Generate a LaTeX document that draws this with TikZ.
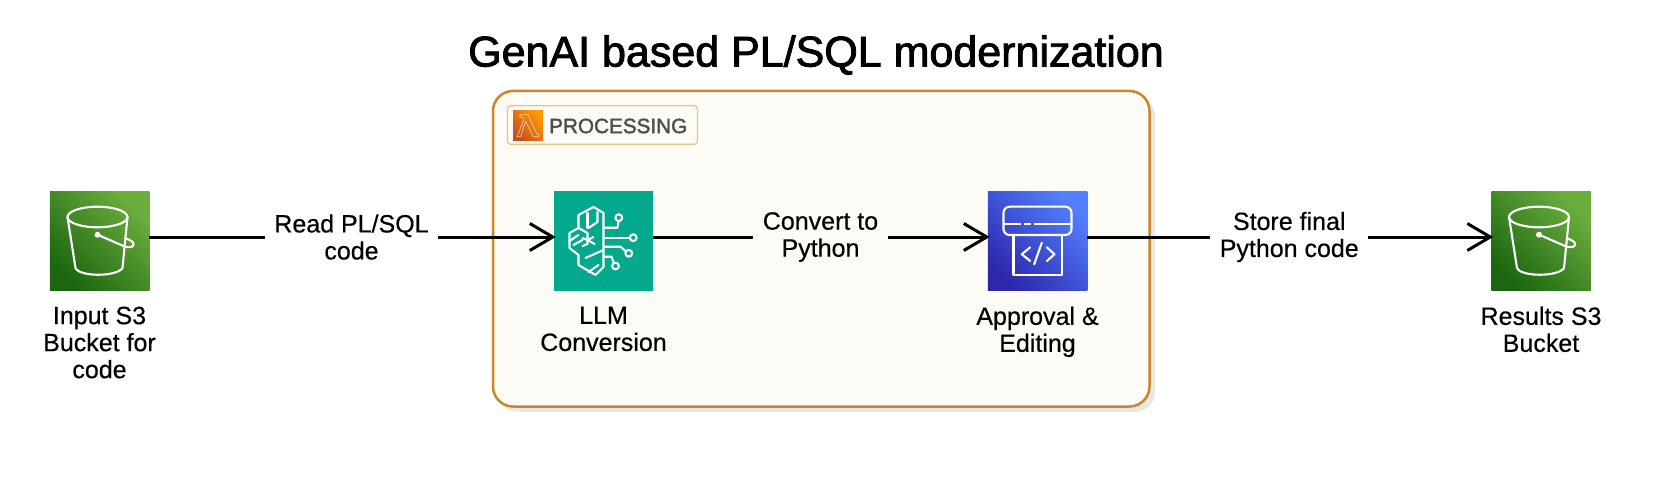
\documentclass[tikz,border=0pt]{standalone}
\usepackage{fontspec}
\setmainfont[FakeBold=0.4]{Liberation Sans}
\newfontfamily\titlefont[FakeBold=2]{Liberation Sans}
\newfontfamily\tagfont[FakeBold=1.8]{Liberation Sans}
\usetikzlibrary{arrows.meta}
\definecolor{boxfill}{HTML}{FCFBF6}
\definecolor{boxedge}{HTML}{C8882A}
\definecolor{tagedge}{HTML}{E3C48E}
\definecolor{shadowc}{HTML}{E8E8E8}
\definecolor{gdark}{HTML}{1B660F}
\definecolor{glight}{HTML}{6CAE3E}
\definecolor{bdark}{HTML}{2E27AD}
\definecolor{blight}{HTML}{527FFF}
\definecolor{odark}{HTML}{C8511B}
\definecolor{olight}{HTML}{FF9900}
\definecolor{tealc}{HTML}{02A98D}
\definecolor{tagtext}{HTML}{4D4D4F}
\tikzset{
  x=1pt,y=-1pt,
  iconbox/.style={minimum size=99.5pt,inner sep=0pt,outer sep=0pt,draw=none},
  s3box/.style={iconbox,bottom color=gdark,top color=glight,shading angle=-45},
  llmbox/.style={iconbox,fill=tealc},
  appbox/.style={iconbox,bottom color=bdark,top color=blight,shading angle=-45},
  iconline/.style={draw=white,line width=2.1pt,line join=round,line cap=round},
  iconlabel/.style={anchor=north,align=center,inner sep=0pt,font=\fontsize{25}{27}\selectfont},
  edgelabel/.style={align=center,inner xsep=9.5pt,inner ysep=3pt,font=\fontsize{25}{27}\selectfont},
  flow/.style={draw=black,line width=3pt,shorten >=-2pt,-{Straight Barb[length=23pt,width=27pt,line width=3pt]}},
  bucket/.pic={
    \draw[iconline] (48,26) ellipse [x radius=30,y radius=10.3];
    \draw[iconline] (18,26) -- (26,77) .. controls (30,86) and (67,86) .. (73,77) -- (78,26);
    \draw[iconline] (76,47.3) .. controls (81,49) and (85,51.5) .. (84,54) .. controls (83,57) and (78,56.5) .. (74,55) -- (48,43.7);
    \fill[white] (48,43.7) circle (3pt);
  },
  brain/.pic={
    \draw[iconline] (40,16) -- (50,22) -- (50,76) -- (42,84) -- (25,74) -- (25,64) -- (16,57) -- (16,42) -- (25,37) -- (25,24) -- cycle;
    \draw[iconline] (34,22) -- (34,37);
    \draw[iconline] (35,37) -- (44,31) -- (44,21);
    \draw[iconline] (25,37) -- (34,42) -- (34,49);
    \draw[iconline] (29,47) -- (34,49) -- (40,46);
    \draw[iconline] (34,49) -- (34,53) -- (29,55);
    \draw[iconline] (34,49) -- (41,53);
    \draw[iconline] (16,50) -- (25,44);
    \draw[iconline] (20,54) -- (29,49);
    \draw[iconline] (32,67) -- (50,59);
    \draw[iconline] (35,81) -- (45,74);
    \draw[iconline] (50,36.7) -- (64,36.7) -- (65,30.5);
    \draw[iconline] (65.3,26.7) circle (3.4pt);
    \draw[iconline] (50,46.7) -- (75.5,46.7);
    \draw[iconline] (79.7,46.7) circle (3.4pt);
    \draw[iconline] (50,55.7) -- (67,55.7) -- (72,60);
    \draw[iconline] (75.3,62.3) circle (3.4pt);
    \draw[iconline] (50,65.7) -- (58,65.7) -- (60,71);
    \draw[iconline] (62,75) circle (3.4pt);
  },
  codecard/.pic={
    \draw[iconline,rounded corners=6pt] (16,15.7) rectangle (84,44);
    \draw[iconline,line cap=butt] (16,33) -- (33,33) (36,33) -- (43,33) (46.7,33) -- (84,33);
    \draw[iconline] (26,44) -- (26,84) -- (74.3,84) -- (74.3,44);
    \draw[iconline] (42.7,56.3) -- (34.3,63.3) -- (42.7,70);
    \draw[iconline] (59.3,56.3) -- (67,63.3) -- (59.3,70);
    \draw[iconline] (54.3,51.7) -- (46.7,73.3);
  },
}
\begin{document}
\begin{tikzpicture}
\useasboundingbox (0,0) rectangle (1675,481);
\fill[white] (0,0) rectangle (1675,481);

% container
\fill[shadowc,rounded corners=20pt] (498,96) rectangle (1155,412);
\draw[draw=boxedge,fill=boxfill,line width=2.5pt,rounded corners=20pt] (493,91) rectangle (1149.5,406.5);

% group tag
\node[draw=tagedge,fill=boxfill,line width=1.2pt,rounded corners=3pt,minimum width=190pt,minimum height=38.5pt,inner sep=0pt] (tag) at (602.5,125) {};
\node[minimum size=30pt,inner sep=0pt,bottom color=odark,top color=olight,shading angle=-45] (lambda) at (528,125.3) {};
\draw[draw=white,opacity=.65,line width=.7pt,line join=round,shift={(513,110.3)}] (7,4.5) -- (15,4.5) -- (24,24) -- (26,24) -- (26,26.5) -- (20.5,26.5) -- (12.5,11) -- (7.5,26.5) -- (4,26.5) -- (11,9) -- (9.5,7) -- (7,7) -- cycle;
\node[anchor=west,inner sep=0pt,text=tagtext,font=\tagfont\fontsize{20.7}{24}\selectfont] (taglabel) at (549,126) {PROCESSING};

% title
\node[inner sep=0pt,font=\titlefont\fontsize{43}{48}\selectfont] (title) at (816,55) {GenAI based PL/SQL modernization};

% icons
\node[s3box] (in) at (99.5,241) {};
\node[llmbox] (llm) at (603.5,241) {};
\node[appbox] (app) at (1037.5,241) {};
\node[s3box] (out) at (1541,241) {};
\pic at (49.5,191) {bucket};
\pic at (553.5,191) {brain};
\pic at (987.5,191) {codecard};
\pic at (1491,191) {bucket};

% connectors
\draw[flow] (in.east |- 0,237) -- node[edgelabel,fill=white] (l1) {Read PL/SQL\\code} (llm.west |- 0,237);
\draw[flow] (llm.east |- 0,237) -- node[edgelabel,fill=boxfill] (l2) {Convert to\\Python} (app.west |- 0,237);
\draw[flow] (app.east |- 0,237) -- node[edgelabel,fill=white] (l3) {Store final\\Python code} (out.west |- 0,237);

% icon labels
\node[iconlabel] (t1) at (99.5,306.5) {Input S3\\Bucket for\\code};
\node[iconlabel] (t2) at (603.5,306.5) {LLM\\Conversion};
\node[iconlabel] (t3) at (1037.5,306.5) {Approval \&\\Editing};
\node[iconlabel] (t4) at (1541,306.5) {Results S3\\Bucket};
\end{tikzpicture}
\end{document}
